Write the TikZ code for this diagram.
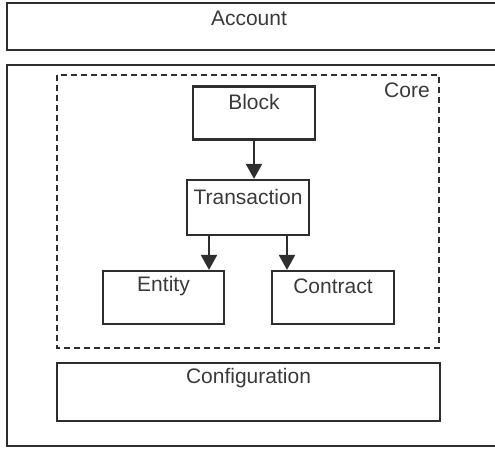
\documentclass[tikz,border=0pt]{standalone}
\usepackage{fontspec}
\setmainfont{Liberation Sans}
\usetikzlibrary{arrows.meta}
\definecolor{ln}{HTML}{2E2E2E}
\definecolor{tx}{HTML}{3A3A3A}
\tikzset{
  box/.style={draw=ln, line width=2.2pt},
  lbl/.style={font=\fontsize{21}{23}\selectfont, text=tx, inner sep=0pt},
  arr/.style={draw=ln, line width=2.2pt, -{Triangle[length=15pt,width=16pt]}},
}
\begin{document}
\begin{tikzpicture}[x=1pt,y=-1pt]
\useasboundingbox (0,0) rectangle (495,449);
\clip (0,0) rectangle (495,449);
% Account
\draw[box] (7,3) rectangle (505,50);
\node[lbl] (acc) at (249,18) {Account};
% Outer
\draw[box] (7,65) rectangle (505,446);
% Core dashed
\draw[draw=ln, line width=2.2pt, dash pattern=on 6pt off 4pt] (57,75) rectangle (439,348);
\node[lbl] (core) at (407,90) {Core};
% Boxes
\node[box, minimum width=122pt, minimum height=53pt, inner sep=0pt] (block) at (254,113) {};
\node[lbl] at (254,102) {Block};
\node[box, minimum width=122pt, minimum height=55pt, inner sep=0pt] (trans) at (248,207.5) {};
\node[lbl] at (248,197) {Transaction};
\node[box, minimum width=121pt, minimum height=53pt, inner sep=0pt] (ent) at (163.5,297.5) {};
\node[lbl] at (163.5,286) {Entity};
\node[box, minimum width=122pt, minimum height=53pt, inner sep=0pt] (con) at (333,297.5) {};
\node[lbl] at (333,286) {Contract};
\node[box, minimum width=383pt, minimum height=58pt, inner sep=0pt] (conf) at (248.5,392) {};
\node[lbl] at (248.5,378) {Configuration};
% Arrows
\draw[arr] (block.south) -- (block.south |- trans.north);
\coordinate (e1) at (209,0);
\coordinate (c1) at (287,0);
\draw[arr] (e1 |- trans.south) -- (e1 |- ent.north);
\draw[arr] (c1 |- trans.south) -- (c1 |- con.north);
\end{tikzpicture}
\end{document}
